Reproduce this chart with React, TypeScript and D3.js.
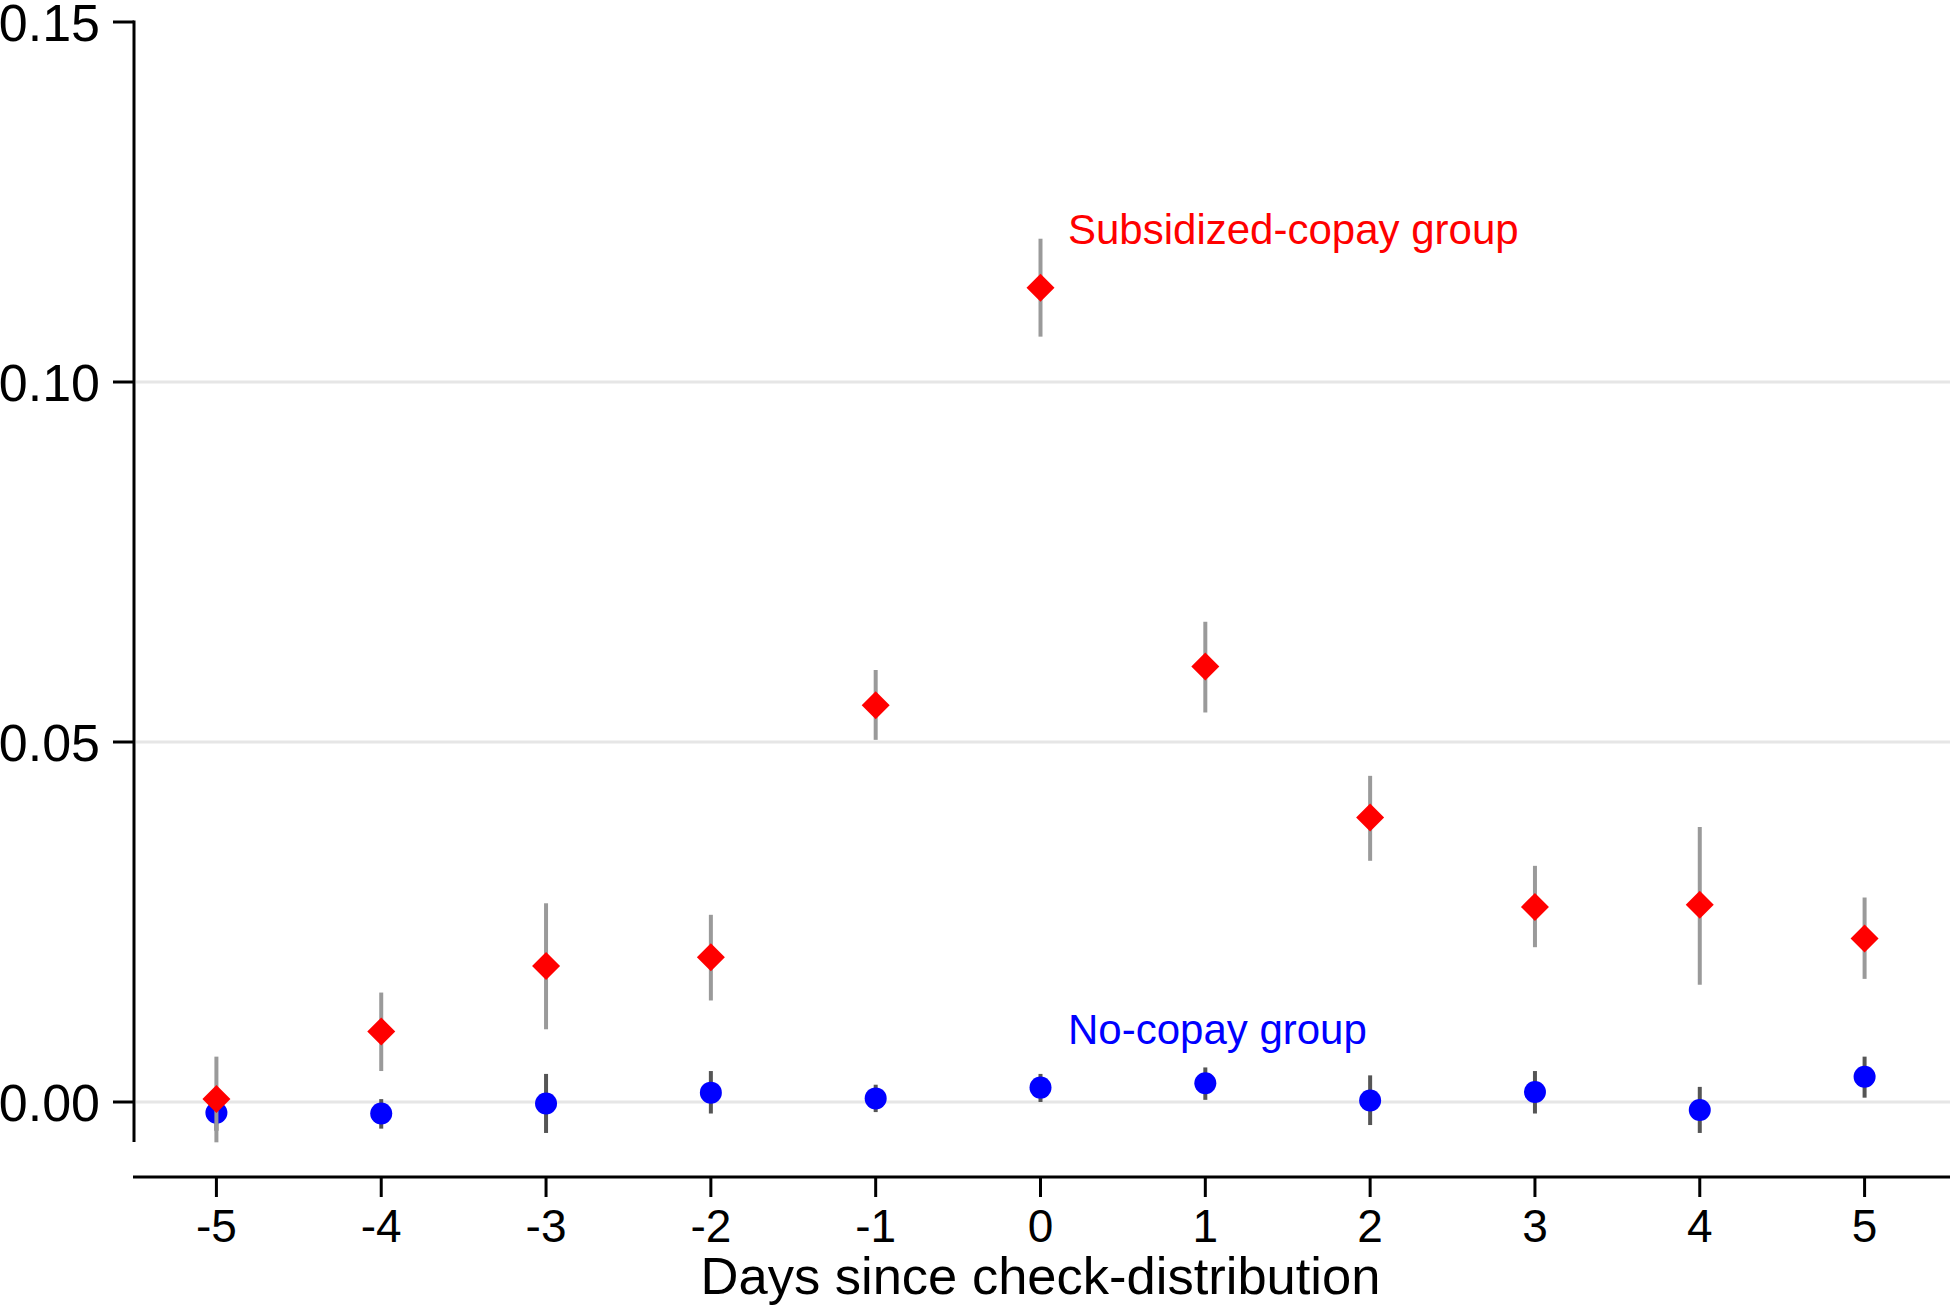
import React from "react";
import * as d3 from "d3";

const days = [-5, -4, -3, -2, -1, 0, 1, 2, 3, 4, 5];
const subsidized = [0.0004, 0.0098, 0.0189, 0.0201, 0.0551, 0.1131, 0.0605, 0.0395, 0.0271, 0.0274, 0.0227];
const subsidizedLo = [-0.0056, 0.0043, 0.0101, 0.0141, 0.0503, 0.1063, 0.0541, 0.0335, 0.0215, 0.0163, 0.0171];
const subsidizedHi = [0.0063, 0.0152, 0.0276, 0.026, 0.06, 0.1199, 0.0667, 0.0453, 0.0328, 0.0382, 0.0284];
const noCopay = [-0.0015, -0.0016, -0.0002, 0.0013, 0.0005, 0.002, 0.0026, 0.0002, 0.0014, -0.0011, 0.0035];
const noCopayLo = [-0.004, -0.0037, -0.0043, -0.0016, -0.0014, 0.0, 0.0003, -0.0032, -0.0016, -0.0043, 0.0006];
const noCopayHi = [0.001, 0.0004, 0.0039, 0.0043, 0.0024, 0.0039, 0.0048, 0.0037, 0.0043, 0.0021, 0.0063];
const yTicks = [0, 0.05, 0.1, 0.15];
const gridTicks = [0, 0.05, 0.1];
const xLabel = "Days since check-distribution";
const subsidizedLabel = "Subsidized-copay group";
const noCopayLabel = "No-copay group";

const W = 1950;
const H = 1309;
const FONT = "'Liberation Sans', Arial, Helvetica, sans-serif";

export default function App() {
  const x = d3.scaleLinear().domain([-5.5, 5.5]).range([134, 1947]);
  const y = d3.scaleLinear().domain([0, 0.15]).range([1102, 22]);
  const yAxisBottom = y(-0.00556);
  const xAxisY = 1177;
  const hd = 14;
  const diamond = d3.line()([
    [0, -hd],
    [hd, 0],
    [0, hd],
    [-hd, 0],
  ]) + "Z";

  return (
    <svg
      width={W}
      height={H}
      style={{ position: "absolute", left: 0, top: 0, background: "#fff" }}
      fontFamily={FONT}
    >
      <rect x={0} y={0} width={W} height={H} fill="#fff" />
      {/* grid */}
      {gridTicks.map((t) => (
        <line key={"g" + t} x1={136} x2={W} y1={y(t)} y2={y(t)} stroke="#e6e6e6" strokeWidth={3} />
      ))}
      {/* y axis */}
      <line x1={134} x2={134} y1={y(0.15) - 1.5} y2={yAxisBottom} stroke="#000" strokeWidth={3} />
      {yTicks.map((t) => (
        <g key={"yt" + t}>
          <line x1={113} x2={134} y1={y(t)} y2={y(t)} stroke="#000" strokeWidth={3} />
          <text x={100} y={y(t) + 19} textAnchor="end" fontSize={52} fill="#000">
            {d3.format(".2f")(t)}
          </text>
        </g>
      ))}
      {/* x axis */}
      <line x1={133} x2={W} y1={xAxisY} y2={xAxisY} stroke="#000" strokeWidth={3} />
      {days.map((d) => (
        <g key={"xt" + d}>
          <line x1={x(d)} x2={x(d)} y1={xAxisY} y2={xAxisY + 20} stroke="#000" strokeWidth={3} />
          <text x={x(d)} y={1242} textAnchor="middle" fontSize={46} fill="#000">
            {d}
          </text>
        </g>
      ))}
      <text x={x(0)} y={1294} textAnchor="middle" fontSize={52.5} fill="#000">
        {xLabel}
      </text>
      {/* no-copay series */}
      {days.map((d, i) => (
        <line
          key={"nb" + d}
          x1={x(d)}
          x2={x(d)}
          y1={y(noCopayLo[i])}
          y2={y(noCopayHi[i])}
          stroke="#555"
          strokeWidth={4}
        />
      ))}
      {days.map((d, i) => (
        <circle key={"nc" + d} cx={x(d)} cy={y(noCopay[i])} r={11} fill="#0000ff" />
      ))}
      {/* subsidized series */}
      {days.map((d, i) => (
        <line
          key={"sb" + d}
          x1={x(d)}
          x2={x(d)}
          y1={y(subsidizedLo[i])}
          y2={y(subsidizedHi[i])}
          stroke="#9a9a9a"
          strokeWidth={4}
        />
      ))}
      {days.map((d, i) => (
        <path
          key={"sd" + d}
          d={diamond}
          transform={`translate(${x(d)},${y(subsidized[i])})`}
          fill="#ff0000"
        />
      ))}
      {/* labels */}
      <text x={1068} y={244} fontSize={42} fill="#ff0000">
        {subsidizedLabel}
      </text>
      <text x={1068} y={1044} fontSize={42} fill="#0000ff">
        {noCopayLabel}
      </text>
    </svg>
  );
}
